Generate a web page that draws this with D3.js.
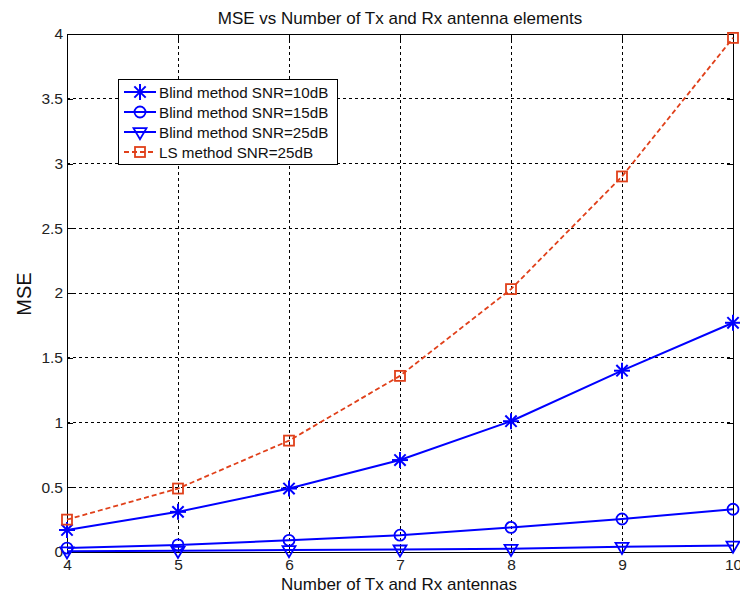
<!DOCTYPE html>
<html><head><meta charset="utf-8">
<script src="https://cdn.jsdelivr.net/npm/d3@7"></script>
<style>body{margin:0;background:#fff}svg{display:block}text{font-family:Arial,"Liberation Sans",sans-serif}</style>
</head><body>
<svg id="c" width="740" height="594"></svg>
<script>
const antennas = [4,5,6,7,8,9,10];
const blind10 = [0.17,0.31,0.49,0.71,1.01,1.40,1.77];
const blind15 = [0.03,0.055,0.09,0.13,0.19,0.255,0.33];
const blind25 = [0.005,0.01,0.015,0.02,0.025,0.04,0.05];
const ls25 = [0.25,0.49,0.86,1.36,2.03,2.90,3.97];
const yTicks = [0,0.5,1,1.5,2,2.5,3,3.5,4];
const xTicks = [4,5,6,7,8,9,10];
const seriesNames = ["Blind method SNR=10dB","Blind method SNR=15dB","Blind method SNR=25dB","LS method SNR=25dB"];

const svg = d3.select("#c");
const L=67,R=733,T=34,B=552;
const x = d3.scaleLinear().domain([4,10]).range([L,R]);
const y = d3.scaleLinear().domain([0,4]).range([B,T]);

// grid
const g = svg.append("g");
g.selectAll(".gx").data(xTicks.slice(1,-1)).enter().append("line")
 .attr("x1",d=>x(d)).attr("x2",d=>x(d)).attr("y1",T).attr("y2",B)
 .attr("stroke","#000").attr("stroke-width",1).attr("stroke-dasharray","3,3").attr("shape-rendering","crispEdges");
g.selectAll(".gy").data(yTicks.slice(1,-1)).enter().append("line")
 .attr("y1",d=>y(d)).attr("y2",d=>y(d)).attr("x1",L).attr("x2",R)
 .attr("stroke","#000").attr("stroke-width",1).attr("stroke-dasharray","3,3").attr("shape-rendering","crispEdges");

// axes
const xa = svg.append("g").attr("transform",`translate(0,${B})`)
 .call(d3.axisBottom(x).tickValues(xTicks).tickSize(-6).tickPadding(7).tickFormat(d3.format("d")));
const xa2 = svg.append("g").attr("transform",`translate(0,${T})`)
 .call(d3.axisTop(x).tickValues(xTicks).tickSize(-6).tickFormat(""));
const ya = svg.append("g").attr("transform",`translate(${L},0)`)
 .call(d3.axisLeft(y).tickValues(yTicks).tickSize(-6).tickPadding(4).tickFormat(d=>String(d)));
const ya2 = svg.append("g").attr("transform",`translate(${R},0)`)
 .call(d3.axisRight(y).tickValues(yTicks).tickSize(-6).tickFormat(""));
[xa,xa2,ya,ya2].forEach(a=>{
  a.selectAll("path").attr("stroke","#000").attr("stroke-width",1).attr("shape-rendering","crispEdges");
  a.selectAll("line").attr("stroke","#000").attr("shape-rendering","crispEdges");
  a.selectAll("text").attr("font-size",15.5).attr("fill","#222").attr("font-family","Arial");
});

const line = d3.line().x((d,i)=>x(antennas[i])).y(d=>y(d));
const blue="#0000ff", red="#e0401a";

function markers(sel,data,type,color){
  const gg = sel.append("g");
  data.forEach((v,i)=>{
    drawMarker(gg,type,x(antennas[i]),y(v),color);
  });
}
function drawMarker(gg,type,cx,cy,color){
  if(type==="star"){
    const r=8;
    for(let k=0;k<4;k++){
      const a=k*Math.PI/4;
      gg.append("line").attr("x1",cx-r*Math.cos(a)).attr("y1",cy-r*Math.sin(a))
        .attr("x2",cx+r*Math.cos(a)).attr("y2",cy+r*Math.sin(a)).attr("stroke",color).attr("stroke-width",2);
    }
  } else if(type==="circle"){
    gg.append("circle").attr("cx",cx).attr("cy",cy).attr("r",5.5).attr("fill","none").attr("stroke",color).attr("stroke-width",1.8);
  } else if(type==="tri"){
    const s=6.5;
    gg.append("path").attr("d",`M${cx-s},${cy-s*0.6}L${cx+s},${cy-s*0.6}L${cx},${cy+s*1.1}Z`)
      .attr("fill","none").attr("stroke",color).attr("stroke-width",1.8);
  } else if(type==="sq"){
    gg.append("rect").attr("x",cx-5).attr("y",cy-5).attr("width",10).attr("height",10)
      .attr("fill","none").attr("stroke",color).attr("stroke-width",1.8);
  }
}

const plot = svg.append("g");
const series = [
  {data:blind10,type:"star",color:blue,dash:null,w:2},
  {data:blind15,type:"circle",color:blue,dash:null,w:2},
  {data:blind25,type:"tri",color:blue,dash:null,w:2},
  {data:ls25,type:"sq",color:red,dash:"5,3",w:1.8}
];
series.forEach(s=>{
  plot.append("path").datum(s.data).attr("d",line).attr("fill","none")
    .attr("stroke",s.color).attr("stroke-width",s.w).attr("stroke-dasharray",s.dash);
  markers(plot,s.data,s.type,s.color);
});

// legend
const lg = svg.append("g");
lg.append("rect").attr("x",118).attr("y",79).attr("width",219).attr("height",85)
  .attr("fill","#fff").attr("stroke","#000").attr("stroke-width",1).attr("shape-rendering","crispEdges");
series.forEach((s,i)=>{
  const yy = 92+i*20;
  lg.append("line").attr("x1",124).attr("x2",156).attr("y1",yy).attr("y2",yy)
    .attr("stroke",s.color).attr("stroke-width",s.w).attr("stroke-dasharray",s.dash);
  drawMarker(lg,s.type,140,yy,s.color);
  lg.append("text").attr("x",159).attr("y",yy+5.5).attr("font-size",15.2).attr("fill","#111").text(seriesNames[i]);
});

// titles
svg.append("text").attr("x",400).attr("y",24).attr("text-anchor","middle").attr("font-size",17).attr("fill","#111")
  .text("MSE vs Number of Tx and Rx antenna elements");
svg.append("text").attr("x",399).attr("y",590).attr("text-anchor","middle").attr("font-size",17).attr("fill","#111")
  .text("Number of Tx and Rx antennas");
svg.append("text").attr("transform","translate(31,294) rotate(-90)").attr("text-anchor","middle").attr("font-size",20).attr("fill","#111")
  .text("MSE");
</script>
</body></html>
